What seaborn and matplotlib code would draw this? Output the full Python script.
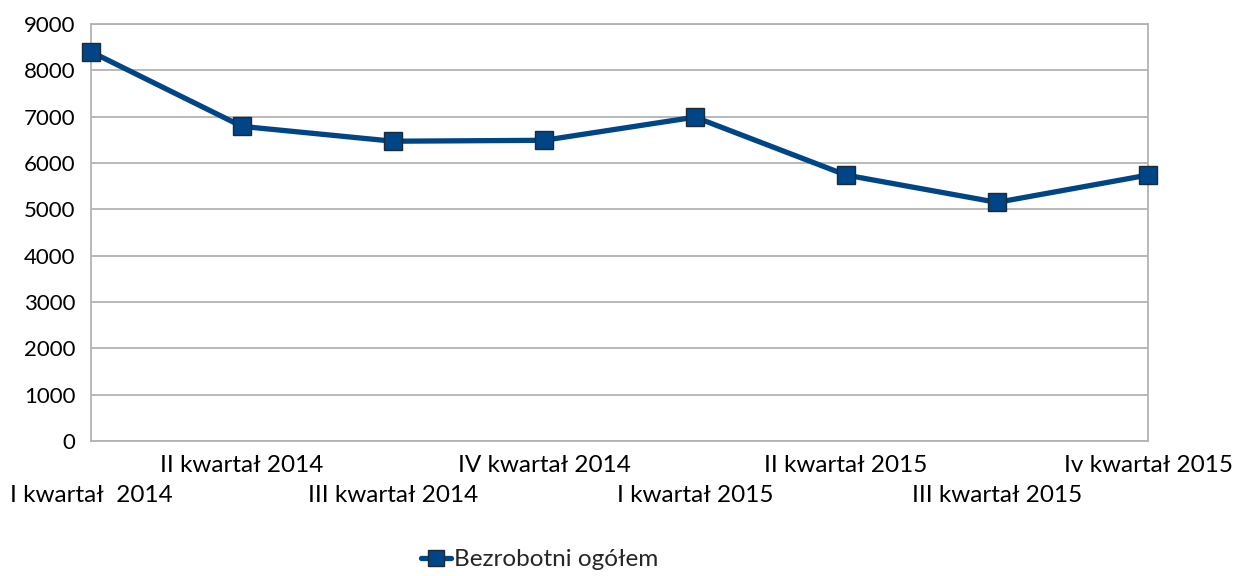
import matplotlib
matplotlib.use("Agg")
import matplotlib.pyplot as plt
import seaborn as sns
import pandas as pd

categories = ["I kwartał  2014", "II kwartał 2014", "III kwartał 2014", "IV kwartał 2014",
              "I kwartał 2015", "II kwartał 2015", "III kwartał 2015", "Iv kwartał 2015"]
values = [8400, 6790, 6470, 6490, 6990, 5740, 5150, 5740]
series_name = "Bezrobotni ogółem"
yticks = [0, 1000, 2000, 3000, 4000, 5000, 6000, 7000, 8000, 9000]

sns.set_theme(style="white")
plt.rcParams['font.family'] = ['Lato', 'DejaVu Sans']

df = pd.DataFrame({"idx": list(range(len(categories))), "val": values, "series": series_name})

fig = plt.figure(figsize=(12.35, 5.76), dpi=100)
ax = fig.add_axes([91/1235, 1 - 441/576, (1148-91)/1235, (441-24)/576])

color = "#004586"
sns.lineplot(data=df, x="idx", y="val", hue="series", palette=[color], ax=ax,
             marker="s", markersize=13.5, markeredgecolor="#1c2a3a", markeredgewidth=1,
             linewidth=3.8, legend=False, clip_on=False, zorder=5)

ax.set_xlim(0, len(categories) - 1)
ax.set_ylim(0, 9000)
ax.set_yticks(yticks)
ax.set_yticklabels([str(v) for v in yticks], fontsize=16)

upper_idx = [i for i in range(len(categories)) if i % 2 == 1]
lower_idx = [i for i in range(len(categories)) if i % 2 == 0]
ax.set_xticks(upper_idx)
ax.set_xticklabels([categories[i] for i in upper_idx], fontsize=17.5)
ax.set_xticks(lower_idx, minor=True)
ax.set_xticklabels([categories[i] for i in lower_idx], minor=True, fontsize=17.5)
ax.tick_params(axis="both", which="both", length=0, colors="black")
ax.tick_params(axis="y", pad=11)
ax.tick_params(axis="x", which="major", pad=10)
ax.tick_params(axis="x", which="minor", pad=32)
ax.set_xlabel("")
ax.set_ylabel("")
ax.yaxis.grid(True, color="#b3b3b3", linewidth=1.3)
ax.xaxis.grid(False, which="both")
for s in ax.spines.values():
    s.set_color("#b3b3b3")
    s.set_linewidth(1.3)

from matplotlib.lines import Line2D
handle = Line2D([], [], color=color, linewidth=3.8, marker="s", markersize=11,
                markeredgecolor="#1c2a3a", markeredgewidth=1)
fig.legend(handles=[handle], labels=[series_name], loc="lower center",
           bbox_to_anchor=(540/1235, -0.028), frameon=False, fontsize=17.5,
           handlelength=1.2, handletextpad=0.15)

fig.savefig("out.png", dpi=100)
